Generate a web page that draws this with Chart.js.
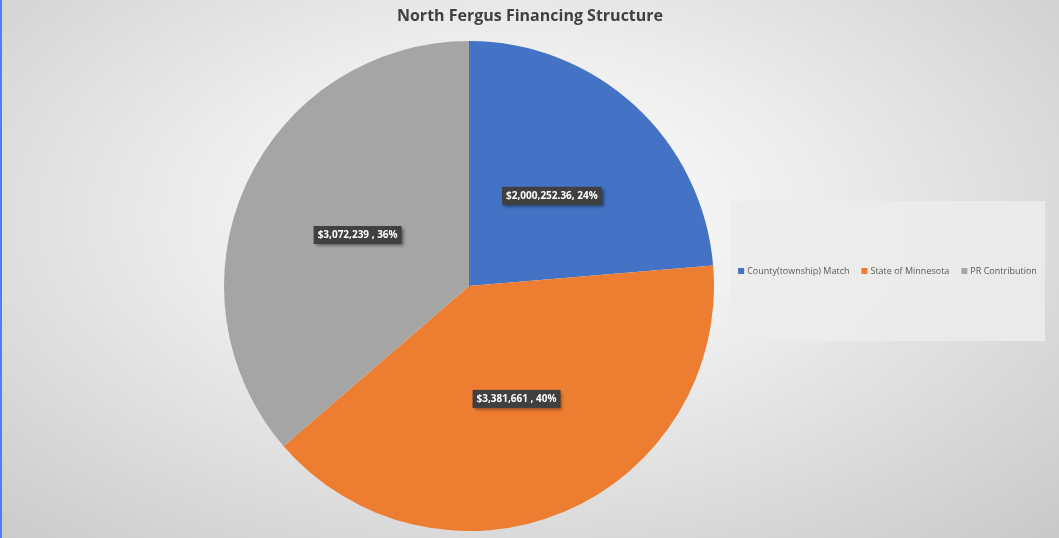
<!DOCTYPE html>
<html lang="en">
<head>
  <meta charset="UTF-8">
  <title>North Fergus Financing Structure</title>
  <script src="https://cdn.jsdelivr.net/npm/chart.js"></script>
  <style>
    html, body { margin: 0; padding: 0; }
    body {
      width: 1059px; height: 538px; overflow: hidden;
      background: radial-gradient(ellipse 75% 85% at 48% 40%, #ffffff 0%, #ececec 40%, #c8c8c8 100%);
    }
    .wrap { position: relative; width: 1057px; height: 538px; border-left: 2px solid #4683ec; }
  </style>
</head>
<body>
  <div class="wrap"><canvas id="pie" width="1057" height="538"></canvas></div>

  <script>
    const categories = ['County(township) Match', 'State of Minnesota', 'PR Contribution'];
    const amounts = [2000252.36, 3381661, 3072239];
    const amountText = ['$2,000,252.36', '$3,381,661 ', '$3,072,239 '];
    const colors = ['#4472c4', '#ed7d31', '#a5a5a5'];

    const total = amounts.reduce((a, b) => a + b, 0);

    // title, value boxes and legend are drawn by hand to match the spreadsheet look
    const decor = {
      id: 'decor',
      afterDatasetsDraw(chart) {
        const ctx = chart.ctx;
        const meta = chart.getDatasetMeta(0);
        ctx.save();
        ctx.font = 'bold 10px "Open Sans", sans-serif';
        ctx.textAlign = 'center';
        ctx.textBaseline = 'middle';
        meta.data.forEach((arc, i) => {
          const p = arc.getCenterPoint();
          const pct = Math.round(amounts[i] / total * 100);
          const txt = amountText[i] + ', ' + pct + '%';
          const w = ctx.measureText(txt).width + 8;
          const h = 18;
          ctx.shadowColor = 'rgba(0,0,0,0.45)';
          ctx.shadowOffsetX = 2;
          ctx.shadowOffsetY = 2;
          ctx.shadowBlur = 3;
          ctx.fillStyle = '#404040';
          ctx.fillRect(p.x - w / 2, p.y - h / 2, w, h);
          ctx.shadowColor = 'transparent';
          ctx.fillStyle = '#ffffff';
          ctx.fillText(txt, p.x, p.y + 0.5);
        });
        ctx.restore();
      },
      afterDraw(chart) {
        const ctx = chart.ctx;
        ctx.save();
        // title
        ctx.font = 'bold 16px "Open Sans", sans-serif';
        ctx.fillStyle = '#404040';
        ctx.textAlign = 'center';
        ctx.textBaseline = 'middle';
        ctx.fillText('North Fergus Financing Structure', 528, 16);

        // legend box
        const bx = 728, by = 201, bw = 315, bh = 140;
        ctx.fillStyle = 'rgba(236,236,236,0.85)';
        ctx.fillRect(bx, by, bw, bh);
        ctx.font = '9px "Open Sans", sans-serif';
        ctx.textAlign = 'left';
        const gap = 12, sq = 6;
        const widths = categories.map(c => sq + 3 + ctx.measureText(c).width);
        const full = widths.reduce((a, b) => a + b, 0) + gap * (categories.length - 1);
        let x = bx + (bw - full) / 2;
        const y = by + bh / 2;
        categories.forEach((c, i) => {
          ctx.fillStyle = colors[i];
          ctx.fillRect(x, y - sq / 2, sq, sq);
          ctx.fillStyle = '#595959';
          ctx.fillText(c, x + sq + 3, y + 0.5);
          x += widths[i] + gap;
        });
        ctx.restore();
      }
    };

    new Chart(document.getElementById('pie'), {
      type: 'pie',
      data: {
        labels: categories,
        datasets: [{
          data: amounts,
          backgroundColor: colors,
          borderWidth: 0
        }]
      },
      options: {
        responsive: false,
        animation: false,
        layout: { padding: { left: 222, right: 345, top: 41, bottom: 7 } },
        plugins: {
          legend: { display: false },
          title: { display: false },
          tooltip: { enabled: false }
        }
      },
      plugins: [decor]
    });
  </script>
</body>
</html>
